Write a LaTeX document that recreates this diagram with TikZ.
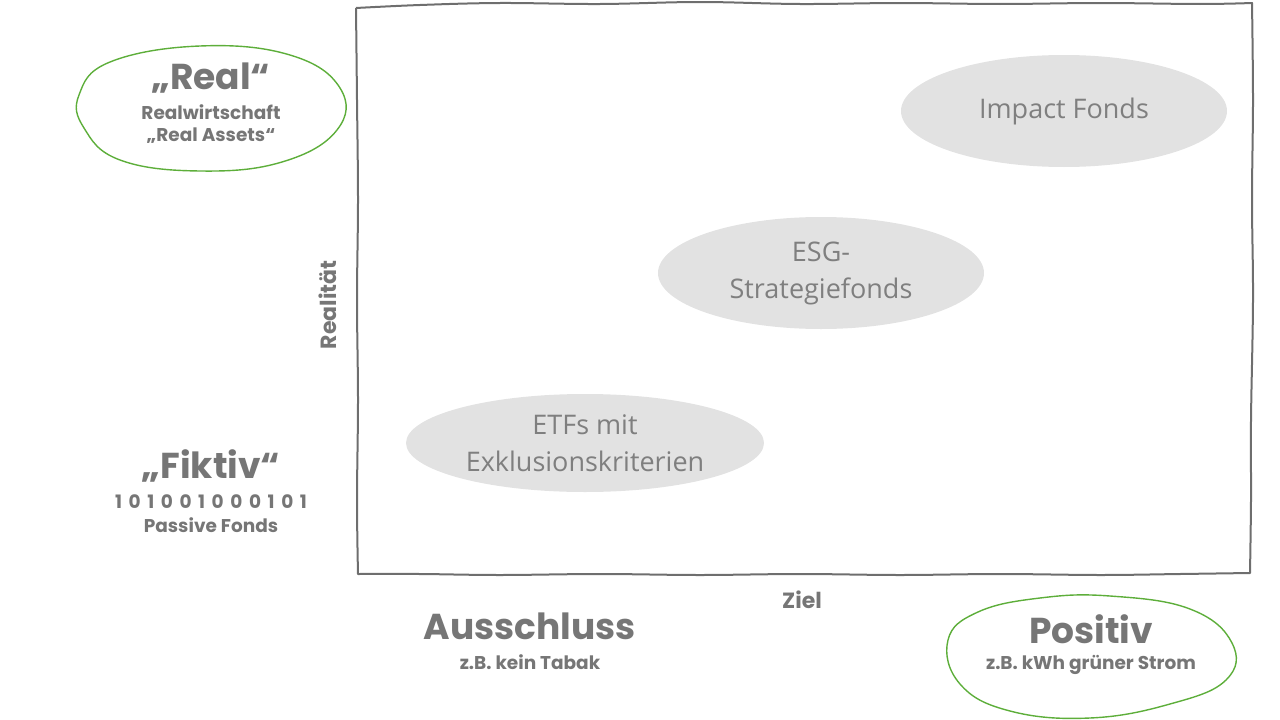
\documentclass[tikz,border=0pt]{standalone}
\usepackage{fontspec}
\usetikzlibrary{shapes.geometric}
\setmainfont{Poppins}
\newfontfamily\ellfont{Open Sans}
\definecolor{txtgray}{HTML}{767676}
\definecolor{ellgray}{HTML}{E2E2E2}
\definecolor{elltxt}{HTML}{7F7F7F}
\definecolor{framegray}{HTML}{6E6E6E}
\definecolor{grn}{HTML}{5DAE3A}
\newcommand{\dg}{\hspace{6.6pt}}
\begin{document}
\begin{tikzpicture}[x=1pt,y=-1pt,
  lbl/.style={text=txtgray,font=\bfseries,inner sep=0pt,align=center},
  big/.style={lbl,font=\bfseries\fontsize{36}{42}\selectfont},
  small/.style={lbl,font=\bfseries\fontsize{18.5}{22}\selectfont},
  axis/.style={lbl,font=\bfseries\fontsize{22}{26}\selectfont},
  fund/.style={ellipse,fill=ellgray,text=elltxt,font=\ellfont\fontsize{27}{37}\selectfont,align=center,inner sep=0pt}]
\useasboundingbox (0,0) rectangle (1280,720);
% frame
\draw[framegray,line width=2pt,line join=round]
  plot[smooth,tension=0.6] coordinates {(356,8) (420,5) (500,3) (600,4) (700,2) (800,4) (900,3) (1000,4) (1100,3) (1200,4) (1252,3)}
  -- plot[smooth,tension=0.6] coordinates {(1252,3) (1253,100) (1252,200) (1253,300) (1251,420) (1251,500) (1250,573)}
  -- plot[smooth,tension=0.6] coordinates {(1250,573) (1180,574) (1100,575) (1000,574) (900,575) (800,574) (700,575) (600,574) (500,575) (420,574) (358,574)}
  -- plot[smooth,tension=0.6] coordinates {(358,574) (357,500) (358,400) (357,300) (358,200) (357,100) (356,8)};
% fund ellipses
\node[fund,minimum width=326pt,minimum height=112pt] (impact) at (1064,111) {Impact Fonds};
\node[fund,minimum width=326pt,minimum height=112pt] (esg) at (821,273) {ESG-\\Strategiefonds};
\node[fund,minimum width=358pt,minimum height=98pt] (etf) at (585,443) {ETFs mit\\Exklusionskriterien};
% green ellipses
\draw[grn,line width=1.4pt] plot[smooth cycle,tension=0.7] coordinates {(79,95) (110,62) (200,46) (290,55) (340,88) (337,130) (282,162) (200,171) (120,160) (84,128)};
\draw[grn,line width=1.4pt] plot[smooth cycle,tension=0.7] coordinates {(948,640) (978,612) (1040,598) (1110,596) (1190,609) (1232,643) (1226,680) (1170,704) (1090,718) (1010,711) (960,684)};
% labels
\node[big] (real) at (211,78) {„Real“};
\node[small] (realsub) at (211,124) {Realwirtschaft\\„Real Assets“};
\node[big] (fiktiv) at (211,466) {„Fiktiv“};
\node[small] (bin) at (211,502) {1\dg0\dg1\dg0\dg0\dg1\dg0\dg0\dg0\dg1\dg0\dg1};
\node[small] (passive) at (211,525) {Passive Fonds};
\node[axis,rotate=90] (realitaet) at (328,305) {Realität};
\node[axis] (ziel) at (802,600) {Ziel};
\node[big] (aus) at (530,626) {Ausschluss};
\node[small] (aussub) at (530,662) {z.B. kein Tabak};
\node[big] (pos) at (1091,629) {Positiv};
\node[small] (possub) at (1091,665) {z.B. kWh grüner Strom};
\end{tikzpicture}
\end{document}
